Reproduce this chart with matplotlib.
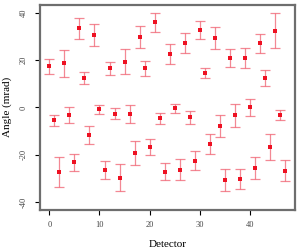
import numpy as np
import matplotlib
matplotlib.use("Agg")
import matplotlib.pyplot as plt

# angle per detector
detector = np.arange(48)
angle = [17.4, -5.5, -27.4, 18.8, -3.1, -23.2, 33.5, 12.5, -11.7, 30.8,
         -0.8, -26.5, 16.6, -2.7, -29.7, 19.4, -2.8, -19.3, 30.0, 16.6,
         -16.75, 36.1, -4.6, -27.2, 22.5, -0.4, -26.3, 27.3, -4.1, -22.5,
         33.0, 14.6, -15.6, 29.4, -7.8, -30.7, 21.1, -3.25, -30.25, 21.1,
         0.0, -25.5, 27.1, 12.5, -16.6, 32.6, -3.25, -26.75]
err = [3.3, 2.5, 6.3, 5.7, 3.5, 3.7, 4.4, 2.5, 3.9, 4.6,
       2.0, 3.7, 2.8, 2.3, 5.6, 5.3, 3.8, 4.9, 4.6, 3.1,
       3.3, 4.0, 2.4, 3.7, 4.2, 1.75, 4.4, 4.4, 2.7, 4.0,
       3.8, 2.1, 4.2, 4.6, 4.8, 4.85, 3.8, 4.85, 4.2, 4.3,
       3.6, 4.6, 4.0, 3.45, 5.55, 7.5, 2.25, 4.35]
xticks = [0, 10, 20, 30, 40]
yticks = [-40, -20, 0, 20, 40]

plt.rcParams['font.family'] = ['Liberation Serif', 'DejaVu Serif']

fig = plt.figure(figsize=(3, 2.5), dpi=100)
ax = fig.add_axes([0.133, 0.162, 0.849, 0.818])

ax.errorbar(detector, angle, yerr=err, fmt='none', ecolor='#f06070',
            alpha=0.75, elinewidth=0.9, capsize=3.3, capthick=0.9)
ax.plot(detector, angle, 's', color='#ee1122', markersize=2.3,
        markeredgewidth=0)

ax.set_xlim(-1.88, 48.9)
ax.set_ylim(-43.2, 43.4)
ax.set_xticks(xticks)
ax.set_yticks(yticks)
ax.set_yticklabels([str(t) for t in yticks], rotation=90, va='center')
ax.tick_params(length=3.5, width=0.8, labelsize=6, pad=5, colors='black')
ax.tick_params(axis='y', labelcolor='#444444')
ax.tick_params(axis='x', labelcolor='#444444')

for s in ax.spines.values():
    s.set_color('#6e6e6e')
    s.set_linewidth(1.6)

ax.set_xlabel('Detector', fontsize=8, labelpad=8)
ax.set_ylabel('Angle (mrad)', fontsize=8, labelpad=6)

fig.savefig('out.png', dpi=100)
